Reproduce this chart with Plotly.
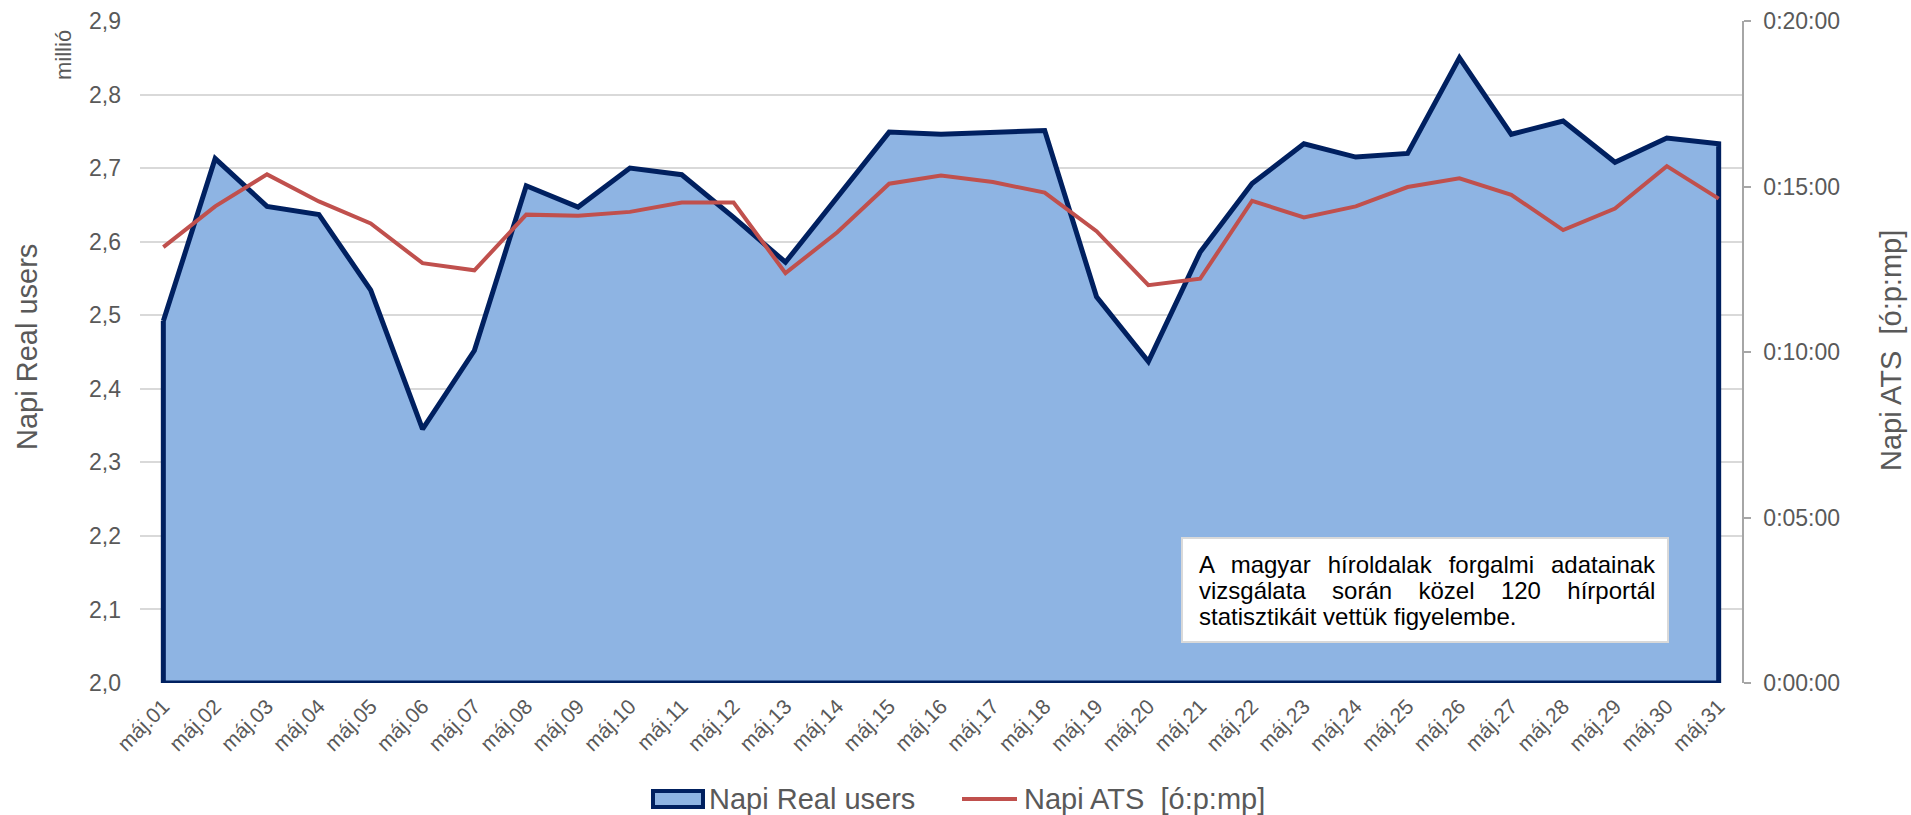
import plotly.graph_objects as go

# ---- data ----
days = [f"máj.{d:02d}" for d in range(1, 32)]
real_users = [2.492, 2.713, 2.648, 2.637, 2.534, 2.345, 2.452, 2.676, 2.647, 2.700,
              2.691, 2.633, 2.572, 2.660, 2.749, 2.746, 2.748, 2.751, 2.525, 2.437,
              2.586, 2.679, 2.733, 2.715, 2.720, 2.850, 2.746, 2.764, 2.708, 2.741,
              2.733]
ats_seconds = [790, 864, 922, 873, 833, 761, 748, 849, 847, 854,
               871, 871, 743, 817, 905, 920, 908, 889, 819, 721,
               733, 874, 844, 864, 899, 915, 885, 821, 860, 937,
               878]
ats_tickvals = [0, 300, 600, 900, 1200]
ats_ticktext = ["0:00:00", "0:05:00", "0:10:00", "0:15:00", "0:20:00"]
users_min, users_max = 2.0, 2.9
series_names = ["Napi Real users", "Napi ATS  [ó:p:mp]"]

note_lines = ["A magyar híroldalak forgalmi adatainak",
              "vizsgálata során közel 120 hírportál",
              "statisztikáit vettük figyelembe."]

FONT = "Liberation Sans, Arial, sans-serif"
GREY = "#595959"
NAVY = "#002060"
FILL = "#8EB4E3"
RED = "#C0504D"
W, H = 1911, 815
ML, MR, MT, MB = 140, 169, 21, 132
PW, PH = W - ML - MR, H - MT - MB


def px_x(p):
    return (p - ML) / PW


def px_y(p):
    return (H - MB - p) / PH


# closed polygon for the area (with outline round it)
poly_x = days + [days[-1], days[0], days[0]]
poly_y = real_users + [users_min, users_min, real_users[0]]

fig = go.Figure()
fig.add_trace(go.Scatter(
    x=poly_x, y=poly_y, mode="lines", fill="toself",
    fillcolor=FILL, line=dict(color=NAVY, width=5),
    name=series_names[0], hoverinfo="skip", showlegend=False))
fig.add_trace(go.Scatter(
    x=days, y=ats_seconds, mode="lines", yaxis="y2",
    line=dict(color=RED, width=4),
    name=series_names[1], showlegend=False))

fig.update_layout(
    width=W, height=H,
    margin=dict(l=ML, r=MR, t=MT, b=MB, autoexpand=False),
    paper_bgcolor="white", plot_bgcolor="white",
    separators=", ",
    font=dict(family=FONT, color=GREY, size=20),
    showlegend=False,
    xaxis=dict(type="category", categoryorder="array", categoryarray=days,
               range=[-0.45, len(days) - 1 + 0.45],
               tickangle=-45, tickfont=dict(size=21, color=GREY),
               showgrid=False, showline=False, ticks="", zeroline=False,
               ticklabelstandoff=6),
    yaxis=dict(range=[users_min, users_max], dtick=0.1, tickformat=".1f",
               showgrid=True, gridcolor="#D9D9D9", gridwidth=1.5,
               zeroline=False, showline=False, ticks="",
               tickfont=dict(size=23, color=GREY), ticklabelstandoff=18),
    yaxis2=dict(overlaying="y", side="right", range=[0, 1200],
                tickvals=ats_tickvals, ticktext=ats_ticktext,
                showgrid=False, zeroline=False, showline=True,
                linecolor="#A6A6A6", linewidth=1.5, ticks="outside",
                ticklen=7, tickcolor="#A6A6A6", tickwidth=1.5,
                tickfont=dict(size=23, color=GREY), ticklabelstandoff=8),
)

# axis titles
fig.add_annotation(text="Napi Real users", xref="paper", yref="paper",
                   x=px_x(27), y=px_y(347), textangle=-90, showarrow=False,
                   xanchor="center", yanchor="middle",
                   font=dict(size=29, color=GREY))
fig.add_annotation(text="millió", xref="paper", yref="paper",
                   x=px_x(63), y=px_y(55), textangle=-90, showarrow=False,
                   xanchor="center", yanchor="middle",
                   font=dict(size=22, color=GREY))
fig.add_annotation(text="Napi ATS  [ó:p:mp]", xref="paper", yref="paper",
                   x=px_x(1891), y=px_y(350), textangle=-90, showarrow=False,
                   xanchor="center", yanchor="middle",
                   font=dict(size=29, color=GREY))

# note box
fig.add_shape(type="rect", xref="paper", yref="paper",
              x0=px_x(1182), x1=px_x(1668), y0=px_y(642), y1=px_y(538),
              fillcolor="white", line=dict(color="#D9D9D9", width=2), layer="above")
word_gaps = [10.3, 19.7, 0]
for line_text, yc, gap in zip(note_lines, [564, 590, 616], word_gaps):
    txt = f'<span style="word-spacing:{gap}px">{line_text}</span>' if gap else line_text
    fig.add_annotation(text=txt, xref="paper", yref="paper",
                       x=px_x(1197), y=px_y(yc), xanchor="left", yanchor="middle",
                       align="left", showarrow=False,
                       font=dict(size=24, color="black"))

# legend (drawn to match the reference's large swatches)
fig.add_shape(type="rect", xref="paper", yref="paper",
              x0=px_x(653), x1=px_x(703), y0=px_y(807), y1=px_y(791),
              fillcolor=FILL, line=dict(color=NAVY, width=4), layer="above")
fig.add_shape(type="line", xref="paper", yref="paper",
              x0=px_x(962), x1=px_x(1017), y0=px_y(799), y1=px_y(799),
              line=dict(color=RED, width=4), layer="above")
for name, lx in zip(series_names, [707, 1022]):
    fig.add_annotation(text=name, xref="paper", yref="paper",
                       x=px_x(lx), y=px_y(799), xanchor="left", yanchor="middle",
                       showarrow=False, font=dict(size=29, color=GREY))

fig.write_html(
    "out.html",
    config={"displayModeBar": False},
    post_script="document.body.style.margin='0';document.body.style.overflow='hidden';",
)
